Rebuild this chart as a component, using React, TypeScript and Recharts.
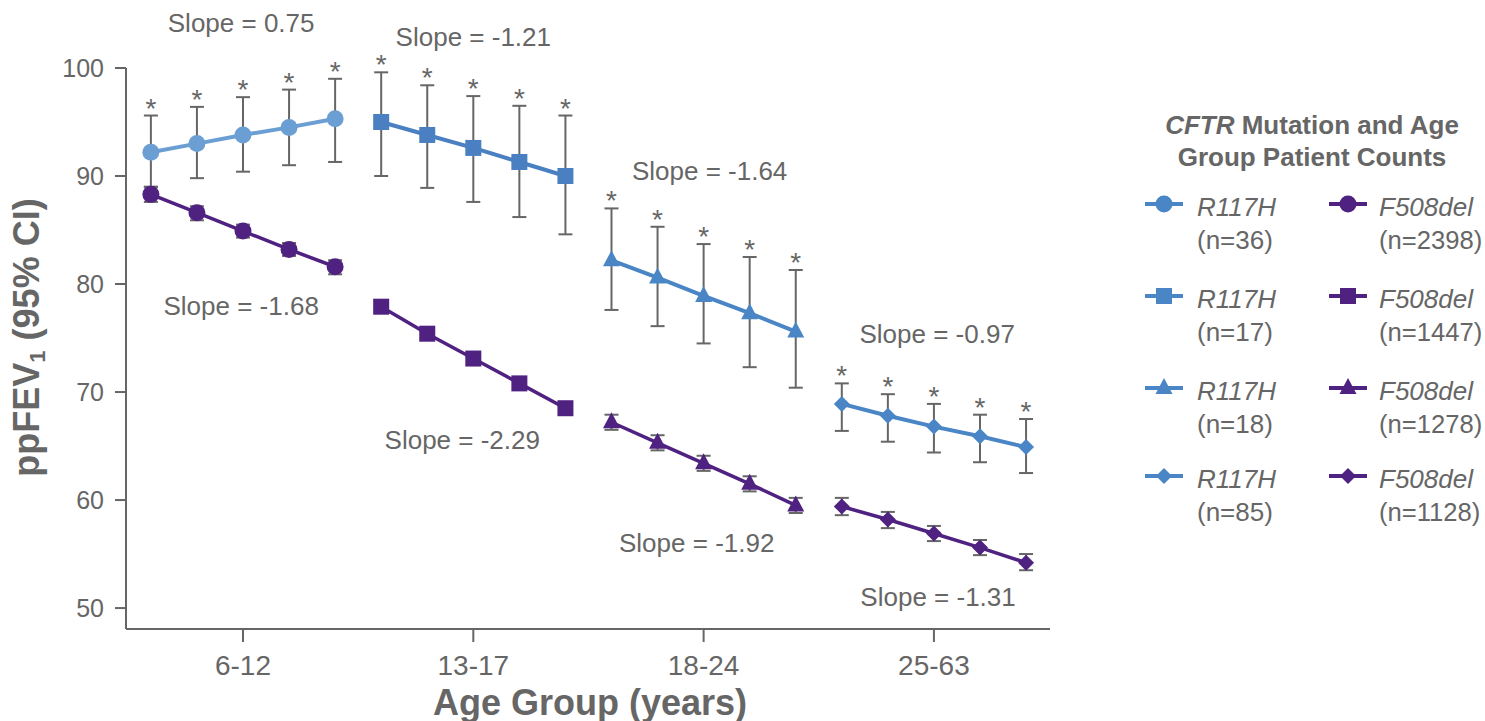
import React from "react"
import {
  LineChart,
  Line,
  XAxis,
  YAxis,
  ErrorBar,
  LabelList,
  ReferenceDot,
  Label
} from "recharts"

const ageGroups = ["6-12", "13-17", "18-24", "25-63"]
const groupTicks = [2, 7, 12, 17]
const yTicks = [50, 60, 70, 80, 90, 100]

// R117H, one row per age group, five visits each
const r117hMean = [
  [92.2, 93.0, 93.8, 94.5, 95.3],
  [95.0, 93.8, 92.6, 91.3, 90.0],
  [82.2, 80.6, 78.9, 77.3, 75.6],
  [68.9, 67.8, 66.8, 65.9, 64.9]
]
const r117hLow = [
  [89.0, 89.8, 90.4, 91.0, 91.3],
  [90.0, 88.9, 87.6, 86.2, 84.6],
  [77.6, 76.1, 74.5, 72.3, 70.4],
  [66.4, 65.4, 64.4, 63.5, 62.5]
]
const r117hHigh = [
  [95.6, 96.4, 97.3, 98.0, 99.0],
  [99.6, 98.4, 97.4, 96.5, 95.6],
  [87.0, 85.3, 83.7, 82.5, 81.3],
  [70.8, 69.8, 68.9, 67.9, 67.5]
]

// F508del
const f508Mean = [
  [88.3, 86.6, 84.9, 83.2, 81.6],
  [77.9, 75.4, 73.1, 70.8, 68.5],
  [67.2, 65.3, 63.4, 61.5, 59.5],
  [59.4, 58.2, 56.9, 55.6, 54.2]
]
const f508Low = [
  [87.6, 85.9, 84.3, 82.6, 80.9],
  [77.4, 74.9, 72.6, 70.3, 68.0],
  [66.5, 64.6, 62.7, 60.8, 58.8],
  [58.6, 57.4, 56.2, 54.9, 53.5]
]
const f508High = [
  [89.0, 87.2, 85.5, 83.8, 82.2],
  [78.4, 75.9, 73.6, 71.3, 69.0],
  [67.9, 66.0, 64.1, 62.2, 60.2],
  [60.2, 58.9, 57.6, 56.3, 55.0]
]

const r117hCounts = ["(n=36)", "(n=17)", "(n=18)", "(n=85)"]
const f508Counts = ["(n=2398)", "(n=1447)", "(n=1278)", "(n=1128)"]

const upperSlopes = ["Slope = 0.75", "Slope = -1.21", "Slope = -1.64", "Slope = -0.97"]
const lowerSlopes = ["Slope = -1.68", "Slope = -2.29", "Slope = -1.92", "Slope = -1.31"]

// where the slope notes sit (x index, y value)
const upperSlopePos = [[1.96, 104.17], [7, 102.87], [12.13, 90.46], [17.07, 75.37]]
const lowerSlopePos = [[1.96, 77.96], [6.76, 65.56], [11.85, 56.02], [17.09, 51.02]]

const shapes = ["circle", "square", "triangle", "diamond"]
const blues = ["#6b9fd3", "#4a80c2", "#4a86c6", "#4a86c6"]
const legendBlue = "#4a86c6"
const purple = "#4f2180"
const grey = "#666666"
const font = "'Liberation Sans', Arial, sans-serif"

function build(mean: number[][], lo: number[][], hi: number[][], g: number) {
  return mean[g].map((v, i) => ({
    x: g * 5 + i,
    y: v,
    hi: hi[g][i],
    err: [v - lo[g][i], hi[g][i] - v]
  }))
}

function Marker({ cx, cy, shape, color }: any) {
  if (cx == null || cy == null) return null
  if (shape === "circle") return <circle cx={cx} cy={cy} r={8.5} fill={color} />
  if (shape === "square") return <rect x={cx - 8} y={cy - 8} width={16} height={16} fill={color} />
  if (shape === "triangle")
    return <polygon points={`${cx},${cy - 10} ${cx + 8.5},${cy + 6} ${cx - 8.5},${cy + 6}`} fill={color} />
  return <polygon points={`${cx},${cy - 8} ${cx + 8},${cy} ${cx},${cy + 8} ${cx - 8},${cy}`} fill={color} />
}

const Star = (props: any) => {
  const { x, y, index } = props
  return (
    <text key={index} x={x} y={y + 2} textAnchor="middle" fontSize={28} fill={grey} fontFamily={font}>
      *
    </text>
  )
}

const YTitle = (props: any) => {
  const vb = props.viewBox
  const cy = vb.y + vb.height / 2 - 11
  return (
    <text
      transform={`translate(${vb.x + 39}, ${cy}) rotate(-90)`}
      textAnchor="middle"
      fontSize={36}
      fontWeight="bold"
      fill={grey}
      fontFamily={font}
    >
      ppFEV<tspan fontSize={22} dy={6}>1</tspan>
      <tspan dy={-6}> (95% CI)</tspan>
    </text>
  )
}

const XTitle = (props: any) => {
  const vb = props.viewBox
  return (
    <text
      x={vb.x + vb.width / 2 + 2}
      y={vb.y + 86}
      textAnchor="middle"
      fontSize={36}
      fontWeight="bold"
      fill={grey}
      fontFamily={font}
    >
      Age Group (years)
    </text>
  )
}

function LegendIcon({ x, y, shape, color }: any) {
  return (
    <g>
      <line x1={x - 19} x2={x + 19} y1={y} y2={y} stroke={color} strokeWidth={4} />
      <Marker cx={x} cy={y} shape={shape} color={color} />
    </g>
  )
}

function ChartLegend() {
  const rowY = [104, 196, 288, 376]
  return (
    <svg
      width={365}
      height={440}
      style={{ position: "absolute", left: 1120, top: 100, overflow: "visible" }}
      fontFamily={font}
    >
      <text x={192} y={34} textAnchor="middle" fontSize={26} fontWeight="bold" fill={grey}>
        <tspan fontStyle="italic">CFTR</tspan> Mutation and Age
      </text>
      <text x={192} y={66} textAnchor="middle" fontSize={26} fontWeight="bold" fill={grey}>
        Group Patient Counts
      </text>
      {rowY.map((y, g) => (
        <g key={g}>
          <LegendIcon x={44} y={y} shape={shapes[g]} color={legendBlue} />
          <text x={77} y={y + 12} fontSize={26} fontStyle="italic" fill={grey}>R117H</text>
          <text x={77} y={y + 45} fontSize={26} fill={grey}>{r117hCounts[g]}</text>
          <LegendIcon x={228} y={y} shape={shapes[g]} color={purple} />
          <text x={259} y={y + 12} fontSize={26} fontStyle="italic" fill={grey}>F508del</text>
          <text x={259} y={y + 45} fontSize={25.6} fill={grey}>{f508Counts[g]}</text>
        </g>
      ))}
    </svg>
  )
}

export default function App() {
  return (
    <div style={{ position: "absolute", left: 0, top: 0, width: 1485, height: 721, fontFamily: font }}>
      <LineChart
        width={1485}
        height={721}
        margin={{ top: 68, right: 435, bottom: 32, left: 0 }}
      >
        <XAxis
          type="number"
          dataKey="x"
          domain={[-0.54, 19.52]}
          allowDataOverflow
          ticks={groupTicks}
          tickFormatter={(v: number) => ageGroups[groupTicks.indexOf(v)]}
          height={60}
          axisLine={{ stroke: grey, strokeWidth: 2 }}
          tickLine={{ stroke: grey, strokeWidth: 2 }}
          tickSize={13}
          tickMargin={13}
          tick={{ fill: grey, fontSize: 28, fontFamily: font }}
        >
          <Label content={XTitle} />
        </XAxis>
        <YAxis
          type="number"
          domain={[48.06, 100]}
          allowDataOverflow
          ticks={yTicks}
          width={126}
          axisLine={{ stroke: grey, strokeWidth: 2 }}
          tickLine={{ stroke: grey, strokeWidth: 2 }}
          tickSize={11}
          tickMargin={11}
          tick={{ fill: grey, fontSize: 25, fontFamily: font }}
        >
          <Label content={YTitle} />
        </YAxis>

        {ageGroups.map((_, g) => (
          <Line
            key={"f" + g}
            data={build(f508Mean, f508Low, f508High, g)}
            dataKey="y"
            stroke={purple}
            strokeWidth={3.5}
            isAnimationActive={false}
            dot={(p: any) => <Marker key={p.index} cx={p.cx} cy={p.cy} shape={shapes[g]} color={purple} />}
          >
            <ErrorBar dataKey="err" direction="y" width={7} stroke={grey} strokeWidth={2} />
          </Line>
        ))}

        {ageGroups.map((_, g) => (
          <Line
            key={"r" + g}
            data={build(r117hMean, r117hLow, r117hHigh, g)}
            dataKey="y"
            stroke={blues[g]}
            strokeWidth={4}
            isAnimationActive={false}
            dot={(p: any) => <Marker key={p.index} cx={p.cx} cy={p.cy} shape={shapes[g]} color={blues[g]} />}
          >
            <ErrorBar dataKey="err" direction="y" width={7} stroke={grey} strokeWidth={2} />
          </Line>
        ))}

        {ageGroups.map((_, g) => (
          <Line
            key={"s" + g}
            data={build(r117hMean, r117hLow, r117hHigh, g)}
            dataKey="hi"
            stroke="none"
            dot={false}
            activeDot={false}
            isAnimationActive={false}
          >
            <LabelList dataKey="hi" content={Star} />
          </Line>
        ))}

        {upperSlopes.map((t, i) => (
          <ReferenceDot
            key={"u" + i}
            x={upperSlopePos[i][0]}
            y={upperSlopePos[i][1]}
            r={1}
            fill="none"
            stroke="none"
            ifOverflow="visible"
            label={{ value: t, position: "center", fill: grey, fontSize: 26, fontFamily: font }}
          />
        ))}
        {lowerSlopes.map((t, i) => (
          <ReferenceDot
            key={"l" + i}
            x={lowerSlopePos[i][0]}
            y={lowerSlopePos[i][1]}
            r={1}
            fill="none"
            stroke="none"
            ifOverflow="visible"
            label={{ value: t, position: "center", fill: grey, fontSize: 26, fontFamily: font }}
          />
        ))}
      </LineChart>
      <ChartLegend />
    </div>
  )
}
